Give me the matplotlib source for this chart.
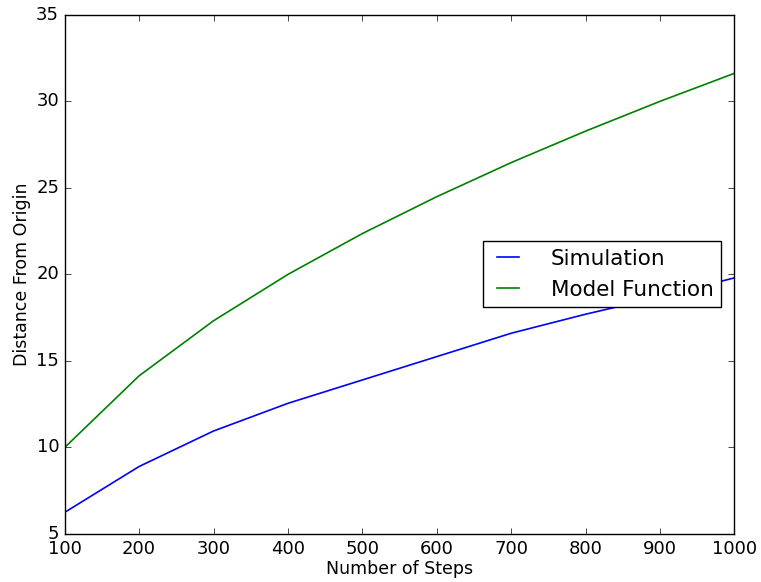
import matplotlib
matplotlib.use("Agg")
import matplotlib.pyplot as plt

# values
steps = [100, 200, 300, 400, 500, 600, 700, 800, 900, 1000]
simulation = [6.25, 8.9, 10.95, 12.55, 13.9, 15.25, 16.6, 17.7, 18.7, 19.8]
model = [10.0, 14.14, 17.32, 20.0, 22.36, 24.49, 26.46, 28.28, 30.0, 31.62]

plt.style.use("classic")

fig = plt.figure(figsize=(7.61, 5.82), dpi=100)
ax = fig.add_axes([0.085, 0.0825, 0.88, 0.892])

ax.plot(steps, simulation, color="b", linewidth=1.2, label="Simulation")
ax.plot(steps, model, color="g", linewidth=1.2, label="Model Function")

ax.set_xlim(100, 1000)
ax.set_ylim(5, 35)
ax.tick_params(labelsize=13)
ax.set_xlabel("Number of Steps", fontsize=12.5, labelpad=2)
ax.set_ylabel("Distance From Origin", fontsize=12.5, labelpad=4)

ax.legend(loc="center right", fontsize=15.5, fancybox=False, handlelength=1.6,
          handletextpad=1.2, borderpad=0.35, borderaxespad=0.6)

fig.savefig("out.png", dpi=100)
